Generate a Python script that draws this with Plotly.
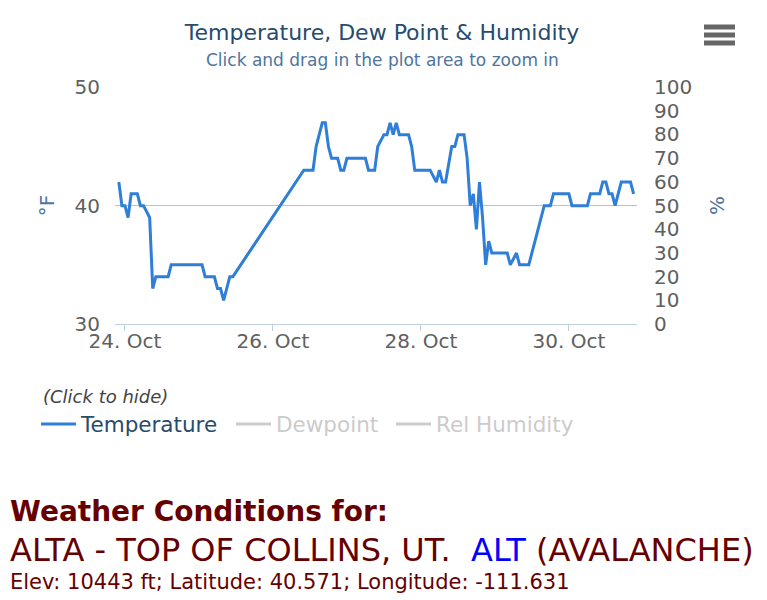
import pandas as pd
import plotly.graph_objects as go

# ---------------- data ----------------
base_time = "2016-10-24 00:00"
temp_hours = [-2, -1, 0, 1, 2, 4, 5, 6, 8, 9, 10, 14, 15, 25, 26, 29, 30, 31, 32, 34, 35,
              58, 61, 62, 64, 65, 66, 67, 69, 70, 71, 72, 78, 79, 81, 82, 84, 85, 86, 87, 88,
              89, 92, 93, 94, 99, 101, 102, 103, 104, 106, 107, 108, 110, 111, 112, 113, 114,
              115, 116, 117, 118, 119, 124, 125, 127, 128, 131, 136, 138, 139, 144, 145, 150,
              151, 154, 155, 156, 157, 158, 159, 161, 164, 165]
temp_f = [42, 40, 40, 39, 41, 41, 40, 40, 39, 33, 34, 34, 35, 35, 34, 34, 33, 33, 32, 34, 34,
          43, 43, 45, 47, 47, 45, 44, 44, 43, 43, 44, 44, 43, 43, 45, 46, 46, 47, 46, 47,
          46, 46, 45, 43, 43, 42, 43, 42, 42, 45, 45, 46, 46, 44, 40, 41, 38,
          42, 39, 35, 37, 36, 36, 35, 36, 35, 35, 40, 40, 41, 41, 40, 40,
          41, 41, 42, 42, 41, 41, 40, 42, 42, 41]
# hidden series (shown in the legend only; values not visible in the chart)
dewpoint_x = [None]
dewpoint_f = [None]
humidity_x = [None]
rel_humidity = [None]
x_tick_dates = ["2016-10-24", "2016-10-26", "2016-10-28", "2016-10-30"]
x_range_hours = [-3.24, 166.1]
left_ticks = [30, 40, 50]
right_ticks = [0, 10, 20, 30, 40, 50, 60, 70, 80, 90, 100]

t0 = pd.Timestamp(base_time)
temp_x = [t0 + pd.Timedelta(hours=h) for h in temp_hours]
x_range = [t0 + pd.Timedelta(hours=h) for h in x_range_hours]

FONT = "DejaVu Sans"
NAVY = "#274b6d"
AXBLUE = "#4d759e"
RED = "#660000"

fig = go.Figure()
fig.add_trace(go.Scatter(x=temp_x, y=temp_f, name="Temperature", mode="lines",
                         line=dict(color="#2f7ed8", width=3), legend="legend"))
fig.add_trace(go.Scatter(x=dewpoint_x, y=dewpoint_f, name="Dewpoint", mode="lines",
                         line=dict(color="#999999", width=3), visible="legendonly",
                         legend="legend2", legendwidth=110))
fig.add_trace(go.Scatter(x=humidity_x, y=rel_humidity, name="Rel Humidity", mode="lines",
                         line=dict(color="#999999", width=3), visible="legendonly",
                         yaxis="y2", legend="legend2"))

# page body has an 8px margin: work in screen px, convert to figure px
OFF = 8
W, H = 767 - OFF, 600 - OFF
L, R, T, B = 115 - OFF, 637 - OFF, 87 - OFF, 324 - OFF


def px(sx):
    return (sx - OFF - L) / (R - L)


def py(sy):
    return (B - (sy - OFF)) / (B - T)


fig.update_layout(
    width=W, height=H,
    margin=dict(l=L, r=W - R, t=T, b=H - B, pad=0),
    paper_bgcolor="white", plot_bgcolor="white",
    font=dict(family=FONT, color="#606060"),
    title=dict(text="Temperature, Dew Point & Humidity", x=(382 - OFF) / W, xanchor="center",
               y=1 - (32 - OFF) / H, yanchor="middle",
               font=dict(family=FONT, size=22, color=NAVY)),
    xaxis=dict(type="date", range=x_range, tickvals=x_tick_dates, tickformat="%d. %b",
               showgrid=False, zeroline=False, showline=True, linecolor="#C0D0E0", linewidth=1,
               ticks="outside", ticklen=6, tickcolor="#C0D0E0", ticklabelstandoff=-7,
               tickfont=dict(family=FONT, size=20, color="#606060"), automargin=False),
    yaxis=dict(range=[30, 50.03], tickvals=left_ticks, showgrid=True, gridcolor="#C0C0C0",
               gridwidth=1, zeroline=False, showline=False, ticks="",
               ticklabelstandoff=14, tickfont=dict(family=FONT, size=20, color="#606060"),
               title=dict(text="°F", font=dict(family=FONT, size=20, color=AXBLUE), standoff=14),
               automargin=False),
    yaxis2=dict(range=[0, 100], tickvals=right_ticks, overlaying="y", side="right",
                showgrid=False, zeroline=False, showline=False, ticks="",
                ticklabelstandoff=16, tickfont=dict(family=FONT, size=20, color="#606060"),
                title=dict(text="%", font=dict(family=FONT, size=20, color=AXBLUE), standoff=18),
                automargin=False),
    legend=dict(orientation="h", x=px(36), xanchor="left", y=py(424), yanchor="middle",
                font=dict(family=FONT, size=21.5, color=NAVY), bgcolor="rgba(0,0,0,0)",
                borderwidth=0, itemwidth=35),
    legend2=dict(orientation="h", x=px(231), xanchor="left", y=py(424), yanchor="middle",
                 font=dict(family=FONT, size=21.5, color="#999999"), bgcolor="rgba(0,0,0,0)",
                 borderwidth=0, itemwidth=35),
    showlegend=True,
    hovermode="x",
)

annotations = [
    dict(text="Click and drag in the plot area to zoom in", x=px(382), y=py(60),
         xanchor="center", yanchor="middle",
         font=dict(family=FONT, size=17, color=AXBLUE)),
    dict(text="<i>(Click to hide)</i>", x=px(41), y=py(396), xanchor="left", yanchor="middle",
         font=dict(family=FONT, size=18, color="#444444")),
    dict(text="<b>Weather Conditions for:</b>", x=px(8), y=py(511), xanchor="left",
         yanchor="middle", font=dict(family=FONT, size=28, color=RED)),
    dict(text="ALTA - TOP OF COLLINS, UT.\u00a0\u00a0<span style='color:#0000ff'>ALT</span> (AVALANCHE)",
         x=px(8), y=py(550), xanchor="left", yanchor="middle",
         font=dict(family=FONT, size=32, color=RED)),
    dict(text="Elev: 10443 ft; Latitude: 40.571; Longitude: -111.631", x=px(8), y=py(582),
         xanchor="left", yanchor="middle", font=dict(family=FONT, size=21, color=RED)),
]
for a in annotations:
    a["xref"] = "paper"
    a["yref"] = "paper"
    a["showarrow"] = False
fig.update_layout(annotations=annotations)

# hamburger menu icon
for yy in (27, 35, 43):
    fig.add_shape(type="line", xref="paper", yref="paper", x0=px(704), x1=px(735),
                  y0=py(yy), y1=py(yy), line=dict(color="#666666", width=5))

fig.write_html("out.html")
